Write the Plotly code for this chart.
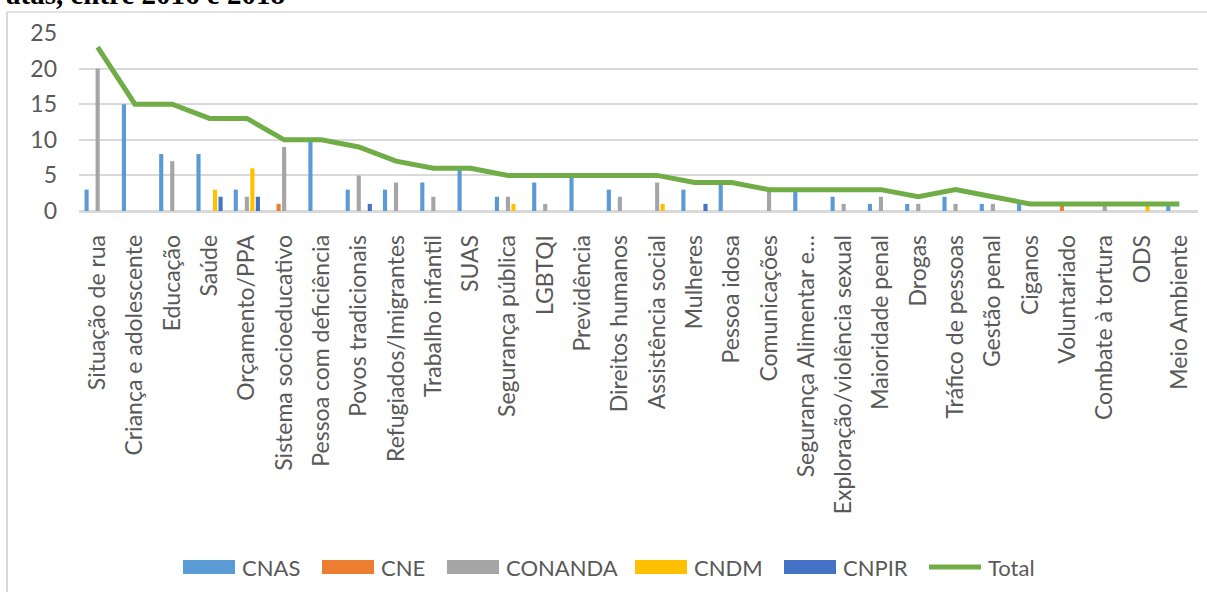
import plotly.graph_objects as go

# Temas tratados nas atas dos conselhos, 2016-2018
categorias = [
    "Situação de rua", "Criança e adolescente", "Educação", "Saúde", "Orçamento/PPA",
    "Sistema socioeducativo", "Pessoa com deficiência", "Povos tradicionais",
    "Refugiados/Imigrantes", "Trabalho infantil", "SUAS", "Segurança pública", "LGBTQI",
    "Previdência", "Direitos humanos", "Assistência social", "Mulheres", "Pessoa idosa",
    "Comunicações", "Segurança Alimentar e…", "Exploração/violência sexual",
    "Maioridade penal", "Drogas", "Tráfico de pessoas", "Gestão penal", "Ciganos",
    "Voluntariado", "Combate à tortura", "ODS", "Meio Ambiente",
]
cnas    = [3, 15, 8, 8, 3, 0, 10, 3, 3, 4, 6, 2, 4, 5, 3, 0, 3, 4, 0, 3, 2, 1, 1, 2, 1, 1, 0, 0, 0, 1]
cne     = [0, 0, 0, 0, 0, 1, 0, 0, 0, 0, 0, 0, 0, 0, 0, 0, 0, 0, 0, 0, 0, 0, 0, 0, 0, 0, 1, 0, 0, 0]
conanda = [20, 0, 7, 0, 2, 9, 0, 5, 4, 2, 0, 2, 1, 0, 2, 4, 0, 0, 3, 0, 1, 2, 1, 1, 1, 0, 0, 1, 0, 0]
cndm    = [0, 0, 0, 3, 6, 0, 0, 0, 0, 0, 0, 1, 0, 0, 0, 1, 0, 0, 0, 0, 0, 0, 0, 0, 0, 0, 0, 0, 1, 0]
cnpir   = [0, 0, 0, 2, 2, 0, 0, 1, 0, 0, 0, 0, 0, 0, 0, 0, 1, 0, 0, 0, 0, 0, 0, 0, 0, 0, 0, 0, 0, 0]
total   = [23, 15, 15, 13, 13, 10, 10, 9, 7, 6, 6, 5, 5, 5, 5, 5, 4, 4, 3, 3, 3, 3, 2, 3, 2, 1, 1, 1, 1, 1]
y_ticks = [0, 5, 10, 15, 20, 25]

series = [
    ("CNAS", cnas, "#5B9BD5"),
    ("CNE", cne, "#ED7D31"),
    ("CONANDA", conanda, "#A5A5A5"),
    ("CNDM", cndm, "#FFC000"),
    ("CNPIR", cnpir, "#4472C4"),
]
total_color = "#70AD47"
text_color = "#595959"
grid_color = "#D9D9D9"
FONT = "Lato"

W, H = 1207, 592
L, R, T, B = 79, 1198, 33, 211  # plot area in pixels


def px_x(p):
    return (p - L) / (R - L)


def px_y(p):
    return (B - p) / (B - T)


fig = go.Figure()
for name, vals, color in series:
    fig.add_trace(go.Bar(x=categorias, y=vals, name=name, marker_color=color,
                         marker_line_width=0, showlegend=False))
fig.add_trace(go.Scatter(x=categorias, y=total, name="Total", mode="lines",
                         line=dict(color=total_color, width=5), showlegend=False))

shapes = [
    # chart frame (top and left edges)
    dict(type="line", xref="paper", yref="paper", x0=px_x(7), x1=px_x(W + 5),
         y0=px_y(12), y1=px_y(12), line=dict(color=grid_color, width=1.5)),
    dict(type="line", xref="paper", yref="paper", x0=px_x(7), x1=px_x(7),
         y0=px_y(12), y1=px_y(H + 5), line=dict(color=grid_color, width=2)),
]
annotations = [
    dict(text="<b>atas, entre 2016 e 2018</b>", xref="paper", yref="paper",
         x=px_x(4), y=px_y(12), xanchor="left", yanchor="bottom", showarrow=False,
         font=dict(family="Liberation Serif", size=29, color="#000000")),
]

# legend row
leg_y = 567
legend_items = [(183, 240), (322, 379), (447, 504), (635, 692), (784, 841)]
for (x0, tx), (name, _, color) in zip(legend_items, series):
    shapes.append(dict(type="rect", xref="paper", yref="paper",
                       x0=px_x(x0), x1=px_x(x0 + 52), y0=px_y(leg_y - 7), y1=px_y(leg_y + 7),
                       fillcolor=color, line=dict(width=0)))
    annotations.append(dict(text=name, xref="paper", yref="paper", x=px_x(tx), y=px_y(leg_y),
                            xanchor="left", yanchor="middle", showarrow=False,
                            font=dict(family=FONT, size=22, color=text_color)))
shapes.append(dict(type="line", xref="paper", yref="paper", x0=px_x(929), x1=px_x(981),
                   y0=px_y(leg_y), y1=px_y(leg_y), line=dict(color=total_color, width=5)))
annotations.append(dict(text="Total", xref="paper", yref="paper", x=px_x(986), y=px_y(leg_y),
                        xanchor="left", yanchor="middle", showarrow=False,
                        font=dict(family=FONT, size=22, color=text_color)))

fig.update_layout(
    width=W, height=H,
    margin=dict(l=L, r=W - R, t=T, b=H - B, pad=0),
    paper_bgcolor="white", plot_bgcolor="white",
    barmode="group", bargap=0.26, bargroupgap=0.25,
    font=dict(family=FONT, size=23, color=text_color),
    shapes=shapes, annotations=annotations,
    xaxis=dict(type="category", tickangle=-90, showgrid=False, ticks="",
               showline=True, linecolor=grid_color, linewidth=1.5,
               ticklabelstandoff=13, tickfont=dict(family=FONT, size=23, color=text_color),
               range=[-0.5, len(categorias) - 0.5]),
    yaxis=dict(range=[0, 25], tickvals=y_ticks, showgrid=True, gridcolor=grid_color,
               gridwidth=1.5, zeroline=True, zerolinecolor=grid_color, zerolinewidth=1.5,
               ticks="", ticklabelstandoff=21,
               tickfont=dict(family=FONT, size=23, color=text_color)),
)

fig.write_html("out.html")
